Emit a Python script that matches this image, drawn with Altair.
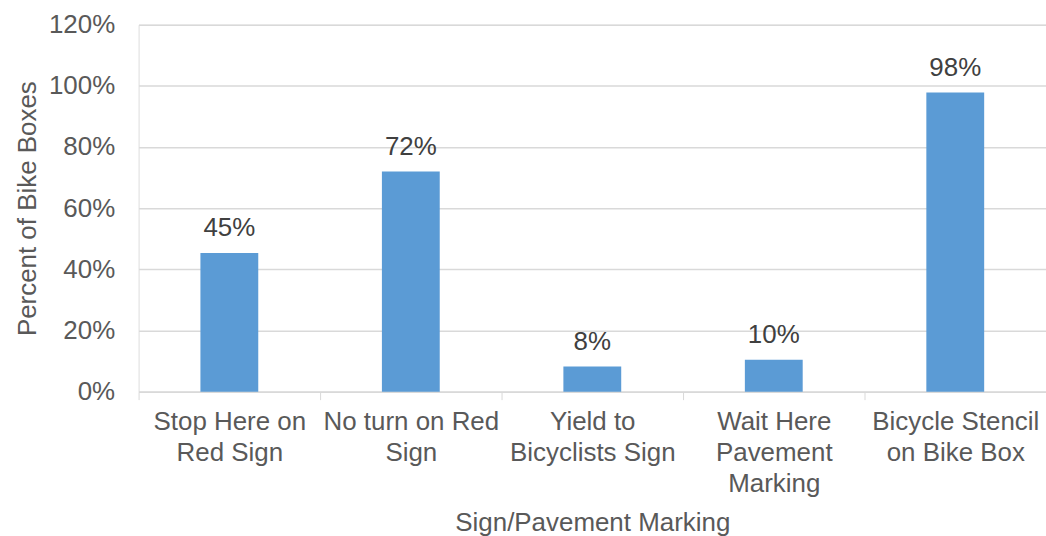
import altair as alt
import pandas as pd

categories = [
    "Stop Here on|Red Sign",
    "No turn on Red|Sign",
    "Yield to|Bicyclists Sign",
    "Wait Here|Pavement|Marking",
    "Bicycle Stencil|on Bike Box",
]
values = [0.453, 0.72, 0.082, 0.104, 0.978]
y_ticks = [0, 0.2, 0.4, 0.6, 0.8, 1.0, 1.2]

df = pd.DataFrame({"cat": categories, "val": values})

FONT = "Liberation Sans"
TXT = "#595959"
FS = 26

x = alt.X(
    "cat:N",
    sort=categories,
    scale=alt.Scale(paddingInner=0, paddingOuter=0),
    axis=alt.Axis(
        title="Sign/Pavement Marking",
        labelExpr="split(datum.label, '|')",
        labelAngle=0,
        labelFontSize=FS,
        labelLineHeight=31,
        labelColor=TXT,
        labelFont=FONT,
        labelPadding=9,
        labelBaseline="top",
        tickBand="extent",
        tickColor="#D9D9D9",
        tickSize=8,
        domainColor="#D9D9D9",
        domainWidth=1.5,
        titleFontSize=FS,
        titleFontWeight="normal",
        titleColor=TXT,
        titleFont=FONT,
        titlePadding=13,
        grid=False,
    ),
)

y = alt.Y(
    "val:Q",
    scale=alt.Scale(domain=[0, 1.2], nice=False),
    axis=alt.Axis(
        title="Percent of Bike Boxes",
        values=y_ticks,
        format=".0%",
        labelFontSize=FS,
        labelColor=TXT,
        labelFont=FONT,
        labelPadding=24,
        ticks=False,
        domain=False,
        gridColor="#D9D9D9",
        gridWidth=1.5,
        titleFontSize=FS,
        titleFontWeight="normal",
        titleColor=TXT,
        titleFont=FONT,
        titlePadding=8,
    ),
)

bars = alt.Chart(df).mark_bar(size=58, color="#5B9BD5").encode(x=x, y=y)
labels = alt.Chart(df).mark_text(
    dy=-12, baseline="bottom", fontSize=FS, font=FONT, color="#404040"
).encode(x=alt.X("cat:N", sort=categories), y="val:Q", text=alt.Text("val:Q", format=".0%"))

chart = (
    alt.layer(bars, labels)
    .properties(
        width=910,
        height=368,
        autosize=alt.AutoSizeParams(type="none"),
        padding={"left": 139, "top": 24, "right": 0, "bottom": 144},
    )
    .configure_view(stroke=None)
    .configure(background="white")
)

chart.save("out.html", embed_options={"renderer": "svg", "actions": False})
